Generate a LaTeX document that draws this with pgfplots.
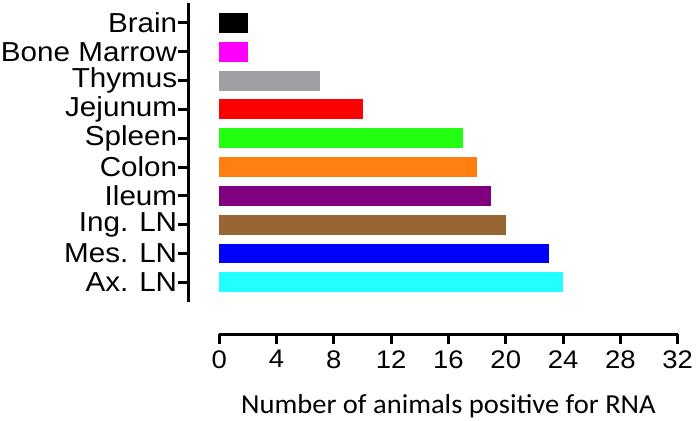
\documentclass[border=0pt]{standalone}
\usepackage{pgfplots}
\pgfplotsset{compat=1.18}
\usepackage{fontspec}
\setmainfont{Liberation Sans}
\newfontfamily\arialx[FakeStretch=1.08]{Liberation Sans}
\newfontfamily\calib[FakeStretch=1.04]{Carlito}
\definecolor{cAx}{HTML}{22FFFF}
\definecolor{cMes}{HTML}{0000FF}
\definecolor{cIng}{HTML}{996633}
\definecolor{cIle}{HTML}{800080}
\definecolor{cCol}{HTML}{FF8010}
\definecolor{cSpl}{HTML}{22FF10}
\definecolor{cJej}{HTML}{FF0000}
\definecolor{cThy}{HTML}{A0A0A4}
\definecolor{cBon}{HTML}{FF00FF}
\definecolor{cBra}{HTML}{000000}
\begin{document}
\begin{tikzpicture}
\begin{axis}[name=a, scale only axis, width=459.6bp, height=300bp,
  xmin=0, xmax=32, ymin=-0.69, ymax=9.69,
  axis x line*=bottom, axis y line*=left,
  axis x line shift=32bp, axis y line shift=31bp,
  axis line style={line width=3bp, black},
  xtick={0,4,...,32}, ytick={0,...,9},
  yticklabels={Ax. LN, Mes. LN, Ing. LN, Ileum, Colon, Spleen, Jejunum, Thymus, Bone Marrow, Brain},
  tick align=outside, major tick length=10bp,
  major tick style={line width=3bp, black},
  minor tick num=0,
  /pgf/number format/assume math mode=true,
  xticklabel style={font=\fontsize{25.5bp}{27bp}\arialx, inner ysep=6bp},
  yticklabel style={font=\fontsize{27.5bp}{29bp}\arialx, inner xsep=1bp},
  xlabel={Number of animals positive for RNA},
  xlabel style={font=\fontsize{27.5bp}{30bp}\calib, inner ysep=0bp, yshift=-20bp},
  clip=false,
]
\addplot[xbar, bar width=20bp, bar shift=0pt, fill=cAx, draw=none] coordinates {(24,0)};
\addplot[xbar, bar width=20bp, bar shift=0pt, fill=cMes, draw=none] coordinates {(23,1)};
\addplot[xbar, bar width=20bp, bar shift=0pt, fill=cIng, draw=none] coordinates {(20,2)};
\addplot[xbar, bar width=20bp, bar shift=0pt, fill=cIle, draw=none] coordinates {(19,3)};
\addplot[xbar, bar width=20bp, bar shift=0pt, fill=cCol, draw=none] coordinates {(18,4)};
\addplot[xbar, bar width=20bp, bar shift=0pt, fill=cSpl, draw=none] coordinates {(17,5)};
\addplot[xbar, bar width=20bp, bar shift=0pt, fill=cJej, draw=none] coordinates {(10,6)};
\addplot[xbar, bar width=20bp, bar shift=0pt, fill=cThy, draw=none] coordinates {(7,7)};
\addplot[xbar, bar width=20bp, bar shift=0pt, fill=cBon, draw=none] coordinates {(2,8)};
\addplot[xbar, bar width=20bp, bar shift=0pt, fill=cBra, draw=none] coordinates {(2,9)};
\end{axis}
\path (a.south west) ++(-218bp,-119bp) rectangle ++(700bp,422bp);
\end{tikzpicture}
\end{document}
